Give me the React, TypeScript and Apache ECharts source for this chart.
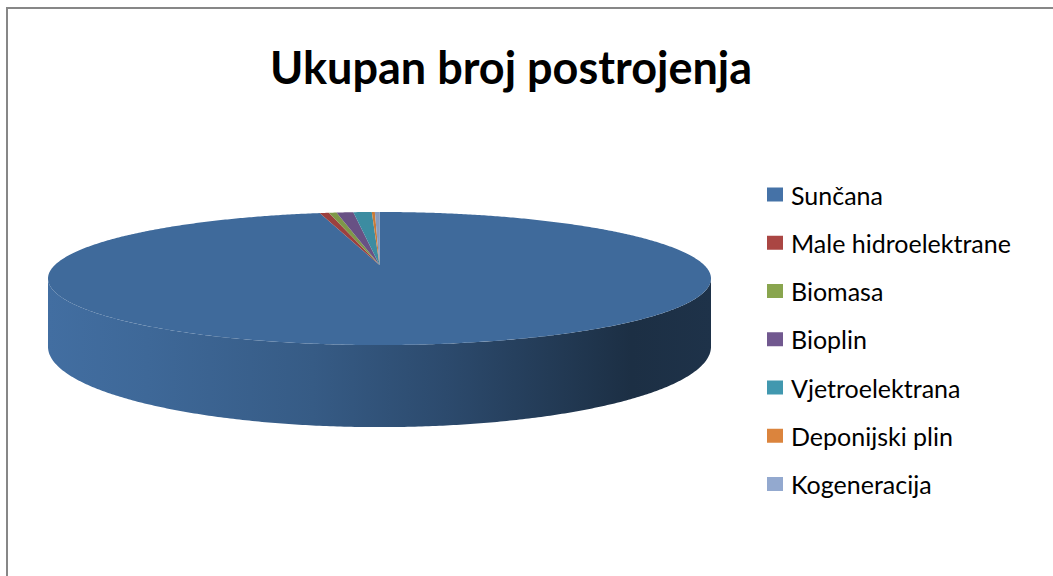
import React, { useEffect, useRef } from "react";
import * as echarts from "echarts";

// ---- data ----
const categories = [
  "Sunčana",
  "Male hidroelektrane",
  "Biomasa",
  "Bioplin",
  "Vjetroelektrana",
  "Deponijski plin",
  "Kogeneracija",
];
const values = [1061, 6, 5, 11, 12, 2, 3];
const legendColors = ["#4572A7", "#AA4643", "#89A54E", "#71588F", "#4198AF", "#DB843D", "#93A9CF"];
const topColors = ["#3F6A9B", "#9C403E", "#7E9848", "#685184", "#3C8CA1", "#C97A38", "#879CBF"];
const titleText = "Ukupan broj postrojenja";

// ---- geometry of the projected 3D pie ----
const CX = 371.5;
const CY0 = 256;
const A = 324.6;
const B = 63.8;
const K = 0.203;
const H = 65.4;

function proj(t: number) {
  const u = Math.sin(t);
  const v = Math.cos(t);
  const w = 1 + K * v;
  const x = CX + (A * u) / w;
  const y = CY0 - (B * v) / w;
  return { x, y, yb: y + H / w };
}

function arcAngles(a: number, b: number) {
  const n = Math.max(2, Math.ceil((b - a) / (Math.PI / 360)));
  const out: number[] = [];
  for (let i = 0; i <= n; i++) out.push(a + ((b - a) * i) / n);
  return out;
}

function shade(hex: string, f: number) {
  const n = parseInt(hex.slice(1), 16);
  const r = Math.min(255, Math.round(((n >> 16) & 255) * f));
  const g = Math.min(255, Math.round(((n >> 8) & 255) * f));
  const b = Math.min(255, Math.round((n & 255) * f));
  return `rgb(${r},${g},${b})`;
}

export default function App() {
  const ref = useRef<HTMLDivElement>(null);

  useEffect(() => {
    if (!ref.current) return;
    const chart = echarts.init(ref.current, undefined, { renderer: "svg" });

    const total = values.reduce((s, v) => s + v, 0);
    const starts: number[] = [];
    const ends: number[] = [];
    let acc = 0;
    values.forEach((v) => {
      starts.push((acc / total) * Math.PI * 2);
      acc += v;
      ends.push((acc / total) * Math.PI * 2);
    });
    const visA = Math.acos(-K);
    const visB = Math.PI * 2 - visA;

    const series = categories.map((name, i) => ({
      type: "custom",
      name,
      coordinateSystem: "none",
      itemStyle: { color: legendColors[i] },
      data: [[values[i]]],
      silent: true,
      renderItem: (params: any, api: any) => {
        const idx = params.seriesIndex;
        const a = starts[idx];
        const b = ends[idx];
        const children: any[] = [];
        const sa = Math.max(a, visA);
        const sb = Math.min(b, visB);
        if (sb > sa) {
          const angs = arcAngles(sa, sb);
          const topPts = angs.map((t) => {
            const p = proj(t);
            return [p.x, p.y];
          });
          const botPts = angs
            .slice()
            .reverse()
            .map((t) => {
              const p = proj(t);
              return [p.x, p.yb];
            });
          const base = topColors[idx];
          const grad = new echarts.graphic.LinearGradient(
            CX - 331.5,
            0,
            CX + 331.5,
            0,
            [
              { offset: 0, color: shade(base, 1.04) },
              { offset: 0.15, color: shade(base, 0.98) },
              { offset: 0.4, color: shade(base, 0.86) },
              { offset: 0.6, color: shade(base, 0.7) },
              { offset: 0.88, color: shade(base, 0.44) },
              { offset: 1, color: shade(base, 0.47) },
            ],
            true
          );
          children.push({
            type: "polygon",
            shape: { points: topPts.concat(botPts) },
            style: { fill: grad, stroke: null },
          });
        }
        const pts: number[][] = [[CX, CY0]];
        arcAngles(a, b).forEach((t) => {
          const p = proj(t);
          pts.push([p.x, p.y]);
        });
        children.push({
          type: "polygon",
          shape: { points: pts },
          style: { fill: topColors[idx], stroke: null },
        });
        return { type: "group", children };
      },
    }));

    chart.setOption({
      animation: false,
      backgroundColor: "#ffffff",
      title: {
        text: titleText,
        left: 262,
        top: 35,
        padding: 0,
        textStyle: { fontFamily: "Lato", fontWeight: "bold", fontSize: 45, color: "#000000" },
      },
      legend: {
        orient: "vertical",
        left: 759,
        top: 167,
        padding: 0,
        icon: "rect",
        itemWidth: 16,
        itemHeight: 14,
        itemGap: 11.25,
        selectedMode: false,
        data: categories,
        textStyle: {
          fontFamily: "Lato",
          fontSize: 25,
          color: "#000000",
          lineHeight: 26,
          padding: [11, 0, 0, 3],
        },
      },
      series,
    } as any);

    return () => chart.dispose();
  }, []);

  return (
    <div
      style={{
        position: "absolute",
        left: 6,
        top: 7,
        width: 1047,
        height: 569,
        boxSizing: "border-box",
        borderLeft: "2px solid #878787",
        borderTop: "2px solid #878787",
        background: "#fff",
      }}
    >
      <div ref={ref} style={{ width: 1045, height: 567 }} />
    </div>
  );
}
